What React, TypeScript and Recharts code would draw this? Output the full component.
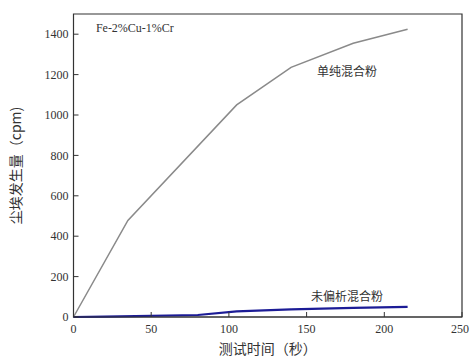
import React from 'react';
import { LineChart, Line, XAxis, YAxis, ReferenceArea, ReferenceDot, Label } from 'recharts';

// 测试时间（秒） vs 尘埃发生量（cpm）
const simpleTime = [0, 35, 105, 140, 180, 215];
const simpleDust = [0, 478, 1050, 1236, 1355, 1425];

const segTime = [0, 20, 80, 105, 140, 180, 215];
const segDust = [0, 2, 10, 28, 38, 45, 50];

const xTicks = [0, 50, 100, 150, 200, 250];
const yTicks = [0, 200, 400, 600, 800, 1000, 1200, 1400];

const simpleData = simpleTime.map((t, i) => ({ t, v: simpleDust[i] }));
const segData = segTime.map((t, i) => ({ t, v: segDust[i] }));

const SERIF = '"Liberation Serif", "DejaVu Serif", serif';
const CJK = '"Noto Sans CJK SC", sans-serif';
const INK = '#333';

// serif tick text (the tick object form kept falling back to sans)
function SerifTick(props: any) {
  const { x, y, payload, textAnchor, verticalAnchor } = props;
  const dy = verticalAnchor === 'start' ? '0.71em' : '0.355em';
  return (
    <text x={x} y={y} dy={dy} textAnchor={textAnchor} fill={INK} fontSize={12} fontFamily={SERIF}>
      {payload.value}
    </text>
  );
}

export default function App() {
  return (
    <div style={{ position: 'absolute', left: 0, top: 0, background: '#fff' }}>
      <LineChart width={472} height={358} margin={{ top: 14, right: 10, left: 0, bottom: 0 }}>
        <XAxis
          type="number"
          dataKey="t"
          domain={[0, 250]}
          ticks={xTicks}
          tick={<SerifTick />}
          tickSize={-5}
          tickMargin={12}
          stroke={INK}
          height={41}
        >
          <Label
            value="测试时间（秒）"
            position="insideBottom"
            offset={4}
            style={{ fill: INK, fontSize: 14, fontFamily: CJK }}
          />
        </XAxis>
        <YAxis
          type="number"
          domain={[0, 1500]}
          ticks={yTicks}
          tick={<SerifTick />}
          tickSize={-5}
          tickMargin={10}
          stroke={INK}
          width={73.5}
        >
          <Label
            value="尘埃发生量（cpm)"
            angle={-90}
            position="insideLeft"
            offset={16}
            style={{ fill: INK, fontSize: 14, fontFamily: CJK, textAnchor: 'middle' }}
          />
        </YAxis>
        <ReferenceArea x1={0} x2={250} y1={0} y2={1500} fill="none" stroke={INK} strokeWidth={1.2} />
        <Line
          data={simpleData}
          dataKey="v"
          type="linear"
          stroke="#8a8a8a"
          strokeWidth={1.5}
          dot={false}
          isAnimationActive={false}
        />
        <Line
          data={segData}
          dataKey="v"
          type="linear"
          stroke="#1c1c96"
          strokeWidth={2.2}
          dot={false}
          isAnimationActive={false}
        />
        <ReferenceDot x={39.5} y={1430} r={0} stroke="none"
          label={{ value: 'Fe-2%Cu-1%Cr', position: 'center', fill: INK, fontSize: 12, fontFamily: SERIF }} />
        <ReferenceDot x={176} y={1216} r={0} stroke="none"
          label={{ value: '单纯混合粉', position: 'center', fill: INK, fontSize: 12, fontFamily: CJK }} />
        <ReferenceDot x={176} y={99} r={0} stroke="none"
          label={{ value: '未偏析混合粉', position: 'center', fill: INK, fontSize: 12, fontFamily: CJK }} />
      </LineChart>
    </div>
  );
}
